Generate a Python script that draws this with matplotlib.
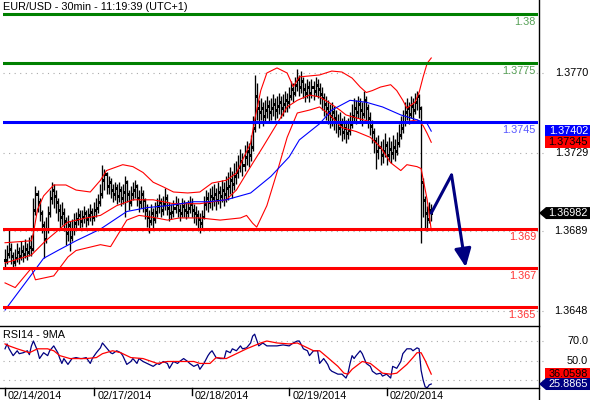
import numpy as np
import matplotlib
matplotlib.use('Agg')
import matplotlib.pyplot as plt
from matplotlib.patches import Polygon
from matplotlib.lines import Line2D
from matplotlib.transforms import IdentityTransform, blended_transform_factory

plt.rcParams['font.family'] = ['Liberation Sans', 'DejaVu Sans']

# prices are kept in pips above 1.3600
BASE = 1.36

close_pips = [
    74, 77, 80, 76, 73, 75, 78, 76, 79, 77, 80, 78, 81, 80,
    100, 108, 104, 98, 92, 85, 90, 98, 106, 110, 107,
    104, 100, 96, 98, 94, 88, 92, 86, 90, 93,
    95, 97, 94, 96, 98, 95, 97, 99, 96, 100, 101, 104, 108,
    115, 118, 112, 114, 110, 108, 111, 107, 110, 106, 109, 114, 108,
    104, 108, 110, 112, 106, 104, 108, 105, 100, 96, 94, 98, 95,
    99, 102, 104, 100, 103, 106, 101,
    98, 99, 101, 103, 100, 98, 102, 100, 99, 101, 103, 100, 98, 97,
    95, 93, 96, 103, 106, 104, 107,
    106, 108, 105, 109, 107, 110, 108, 111,
    112, 115, 113, 117, 119, 122, 125, 123, 127, 130, 128, 132,
    142, 158, 152,
    150, 152, 148, 151, 153, 150, 152, 154, 151, 153, 155, 152, 154, 156, 155,
    158, 162, 160, 164, 167, 163, 166, 162, 160, 163,
    160, 163, 161, 164, 162, 159, 157, 154, 152, 150, 148, 150, 147,
    145, 142, 144, 140, 142, 139, 141, 144,
    148, 152, 150, 154, 151, 149, 156, 152, 147, 143, 140,
    135, 130, 132, 128, 130, 133, 128, 131, 129, 132, 130, 134,
    138, 142, 145, 150, 152, 149, 153, 151, 155, 158, 152,
    114, 105, 98, 95, 100, 98.2,
]
high_pips = [
    80, 82, 90, 83, 78, 80, 83, 81, 84, 82, 85, 83, 86, 87,
    106, 112, 110, 106, 100, 94, 96, 102, 110, 114, 113,
    110, 106, 103, 104, 101, 96, 97, 94, 95, 98,
    99, 101, 100, 100, 102, 100, 101, 103, 101, 104, 106, 108, 113,
    123, 121, 119, 117, 116, 113, 114, 113, 114, 112, 113, 117, 115,
    110, 112, 114, 115, 113, 110, 112, 110, 106, 103, 100, 103, 101,
    104, 106, 108, 106, 107, 111, 108,
    104, 103, 105, 107, 106, 103, 106, 105, 104, 105, 107, 106, 103, 102,
    100, 98, 100, 107, 110, 109, 111,
    112, 113, 111, 114, 112, 115, 114, 117,
    119, 122, 120, 124, 125, 128, 131, 129, 133, 135, 134, 138,
    148, 169, 165,
    156, 157, 155, 156, 158, 156, 157, 159, 157, 158, 160, 158, 159, 161, 160,
    163, 166, 165, 168, 172, 169, 171, 168, 165, 167,
    166, 167, 166, 168, 167, 165, 163, 160, 158, 156, 154, 155, 153,
    151, 149, 150, 147, 148, 146, 147, 150,
    154, 157, 156, 158, 157, 155, 161, 158, 154, 150, 146,
    142, 137, 138, 135, 136, 139, 135, 137, 135, 138, 136, 140,
    144, 148, 151, 155, 157, 155, 158, 157, 160, 161, 159,
    153, 116, 107, 102, 104, 103,
]
low_pips = [
    70, 72, 75, 72, 70, 71, 73, 72, 74, 73, 75, 74, 76, 76,
    79, 97, 99, 94, 88, 75, 83, 88, 96, 103, 101,
    98, 94, 90, 92, 89, 82, 84, 79, 84, 87,
    90, 92, 90, 91, 93, 91, 92, 94, 92, 94, 96, 98, 102,
    106, 110, 108, 108, 106, 104, 105, 103, 104, 102, 103, 96, 104,
    100, 102, 105, 106, 102, 99, 101, 99, 95, 91, 88, 92, 90,
    93, 96, 98, 96, 97, 100, 97,
    94, 95, 96, 98, 96, 94, 96, 96, 95, 96, 98, 96, 93, 92,
    90, 88, 90, 95, 100, 99, 101,
    100, 102, 100, 103, 101, 104, 102, 104,
    105, 108, 106, 110, 113, 116, 119, 117, 120, 123, 122, 125,
    130, 140, 146,
    142, 146, 143, 145, 147, 145, 146, 148, 146, 147, 149, 147, 148, 150, 150,
    152, 156, 155, 158, 161, 158, 160, 157, 155, 157,
    155, 157, 156, 158, 157, 154, 151, 148, 146, 144, 142, 143, 141,
    139, 137, 138, 135, 136, 134, 136, 138,
    142, 145, 144, 147, 145, 143, 147, 146, 142, 138, 134,
    129, 121, 126, 123, 124, 127, 123, 125, 124, 126, 125, 128,
    132, 136, 139, 143, 146, 144, 147, 146, 149, 151, 147,
    83, 96, 90, 89, 93, 94,
]

# indicator readings (bar index, pips)
bb_up_idx = [0, 13, 14, 16, 19, 24, 30, 35, 42, 47, 50, 58, 63, 68, 73, 78, 83, 90, 96,
             102, 109, 114, 117, 121, 123, 126, 129, 134, 139, 142, 145, 155, 161, 166,
             171, 175, 178, 181, 185, 190, 193, 196, 198, 202, 204, 206, 208, 210]
bb_up = [83, 84, 88, 100, 107, 112.6, 112.6, 110, 109, 115, 120, 123, 122, 119, 114,
         111.6, 109, 108.5, 109, 113.6, 115, 118.7, 125.4, 134, 146, 161, 170, 172.6, 170,
         163, 168, 169, 171, 170.5, 167.4, 162.8, 160, 161, 162.8, 164, 161, 156, 152,
         155, 160, 168, 175, 177.7]
bb_mid_idx = [0, 13, 20, 31, 40, 47, 55, 63, 73, 83, 96, 109, 114, 121, 127, 134, 139,
              144, 150, 155, 160, 165, 168, 173, 180, 186, 193, 198, 203, 206, 208, 210]
bb_mid = [72.6, 76.7, 84, 93.6, 95.7, 97, 102, 105, 105, 103, 103, 105, 110, 122, 132,
          144, 152.6, 156, 158.7, 157.7, 154.6, 151, 148.5, 147, 145, 144.4, 144.4, 145,
          146, 143, 139, 134.5]
bb_low_idx = [0, 5, 13, 15, 24, 31, 35, 47, 52, 60, 66, 73, 80, 86, 96, 106, 116, 119,
              122, 124, 129, 134, 139, 144, 150, 155, 160, 166, 173, 180, 185, 190, 195,
              198, 203, 205, 208, 210]
bb_low = [62.4, 60, 70, 64, 66, 75.7, 79, 82, 81, 94.6, 97, 96, 94.6, 95.7, 95.7, 94.6,
          95.7, 97, 93, 91, 102, 119, 137, 149.5, 151, 152.6, 148.5, 142, 140, 137, 132,
          124, 120, 123, 122, 121, 105, 89.5]
ma_idx = [0, 14, 19, 26, 35, 47, 60, 70, 80, 93, 100, 109, 121, 131, 140, 145, 155, 161,
          170, 178, 186, 195, 203, 208, 210]
ma_pips = [48.5, 68, 75, 79, 84, 90, 99, 101, 102, 104, 104, 105, 108.5, 117, 127, 135.7,
           144, 151, 156, 155, 152.6, 148.5, 146, 144, 140.2]

rsi_idx = [0, 1, 2, 4, 6, 7, 9, 11, 12, 13, 14, 15, 16, 17, 19, 21, 22, 24, 26, 27,
           28, 29, 31, 32, 33, 35, 37, 38, 40, 42, 43, 45, 47, 48, 50, 52, 53, 55, 57, 58,
           60, 62, 63, 65, 66, 68, 70, 71, 73, 75, 76, 78, 80, 81, 83, 85, 86, 88, 90, 91,
           93, 95, 96, 98, 100, 101, 102, 104, 106, 108, 109, 111, 112, 114, 116, 117, 119,
           121, 122, 123, 125, 127, 129, 130, 134, 137, 140, 142, 144, 145, 147, 149, 150,
           152, 154, 155, 157, 159, 160, 161, 163, 164, 166, 167, 168, 169, 170, 171, 172,
           173, 175, 176, 178, 180, 181, 183, 185, 186, 188, 190, 191, 193, 195, 196, 198,
           200, 201, 203, 204, 205, 206, 207, 208, 209, 210]
rsi_val = [62, 67, 62, 55, 60, 57, 58, 60, 56, 65, 70, 65, 60, 52, 58, 55, 60, 65, 58, 52,
           47, 52, 46, 49, 52, 53, 52, 52, 53, 47, 52, 58, 63, 68, 63, 58, 57, 60, 58, 55,
           46, 49, 52, 47, 52, 49, 47, 46, 44, 47, 46, 49, 47, 42, 49, 47, 49, 52, 49, 47,
           44, 46, 41, 47, 55, 58, 60, 53, 52, 52, 60, 58, 62, 60, 65, 62, 63, 68, 75, 77,
           65, 68, 65, 65, 65, 66, 65, 68, 70, 70, 62, 60, 55, 60, 60, 47, 52, 46, 41, 39,
           37, 36, 36, 34, 32, 37, 47, 55, 52, 55, 60, 57, 47, 44, 39, 36, 37, 34, 36, 32,
           44, 42, 49, 57, 62, 62, 60, 63, 62, 40, 30, 23, 22, 25, 25.89]
rsi_ma_idx = [0, 2, 6, 9, 12, 16, 21, 24, 27, 32, 35, 40, 45, 48, 53, 57, 62, 68, 75, 80,
              86, 93, 96, 101, 104, 109, 112, 119, 126, 129, 134, 140, 144, 149, 152, 155,
              159, 164, 167, 169, 171, 176, 180, 183, 186, 190, 193, 198, 201, 203, 205,
              207, 210]
rsi_ma = [67, 65, 62, 60, 58, 62, 62, 60, 55, 52, 52, 52, 53, 57, 60, 58, 53, 52, 47, 49,
          49, 49, 47, 47, 53, 52, 55, 62, 68, 70, 68, 67, 68, 63, 60, 60, 53, 44, 37, 36,
          41, 49, 47, 42, 37, 36, 37, 46, 53, 58, 58, 50, 36.06]

level_prices = [1.38, 1.3775, 1.3745, 1.369, 1.367, 1.365]
level_texts = ['1.38', '1.3775', '1.3745', '1.369', '1.367', '1.365']
level_colors = ['#008000', '#008000', '#0000ff', '#ff0000', '#ff0000', '#ff0000']
level_text_colors = ['#55a055', '#55a055', '#5555ff', '#ff3333', '#ff3333', '#ff3333']

price_ticks = [1.3770, 1.3729, 1.3689, 1.3648]
rsi_ticks = [70, 50, 30]
date_idx = [0, 44, 92, 140, 188]
date_labels = ['02/14/2014', '02/17/2014', '02/18/2014', '02/19/2014', '02/20/2014']

# forecast path drawn on the chart (bar index, price)
arrow_idx = [210, 220, 227]
arrow_price = [1.36982, 1.37177, 1.36705]

last_price = '1.36982'
ma_last = '1.37402'
mid_last = '1.37345'
rsi_last = '25.8865'
rsi_ma_last = '36.0598'


def px(p):
    return BASE + np.asarray(p, dtype=float) / 10000.0


W, H = 590, 400
FS = 7.8
fig = plt.figure(figsize=(W / 100, H / 100), dpi=100)
ax = fig.add_axes([3 / W, 74 / H, 535 / W, 326 / H])
rx = fig.add_axes([3 / W, 12 / H, 535 / W, 62 / H])
XR = 262.6
for a in (ax, rx):
    a.set_xlim(-1, XR)
    for s in a.spines.values():
        s.set_visible(False)
    a.set_xticks([])
    a.set_yticks([])
ax.set_ylim(1.364031, 1.380742)
rx.set_ylim(21.8, 85.4)

ident = IdentityTransform()
grid_kw = dict(ls=(0, (1, 4)), color='#aaaaaa', lw=0.8, clip_on=False, zorder=1)
for p in price_ticks:
    ax.plot([-1, XR + 2.5], [p, p], **grid_kw)
for v in rsi_ticks:
    rx.plot([-1, XR + 2.5], [v, v], **grid_kw)

# OHLC bars
n = len(close_pips)
idx = np.arange(n)
c = px(close_pips)
o = np.concatenate([[c[0]], c[:-1]])
ax.vlines(idx, px(low_pips), px(high_pips), color='black', lw=0.95, zorder=2)
tick_kw = dict(color='black', lw=0.75, zorder=2, antialiased=False)
ax.hlines(o, idx - 0.5, idx, **tick_kw)
ax.hlines(c, idx, idx + 0.5, **tick_kw)

# bands and moving average
ax.plot(bb_up_idx, px(bb_up), color='#ff0000', lw=0.8, zorder=3)
ax.plot(bb_mid_idx, px(bb_mid), color='#ff0000', lw=0.8, zorder=3)
ax.plot(bb_low_idx, px(bb_low), color='#ff0000', lw=0.8, zorder=3)
ax.plot(ma_idx, px(ma_pips), color='#0000ff', lw=0.8, zorder=3)

# support / resistance levels
lab_tr = blended_transform_factory(ident, ax.transData)
for p, t, col, tcol in zip(level_prices, level_texts, level_colors, level_text_colors):
    ax.axhline(p, color=col, lw=2.2, zorder=4)
    ax.text(536, p - 8 / 19508, t, transform=lab_tr, ha='right', va='center',
            color=tcol, fontsize=FS, zorder=4)

# forecast arrow
navy = '#000080'
ax.plot(arrow_idx[:2], arrow_price[:2], color=navy, lw=2.2, solid_capstyle='round', zorder=5)
ax.annotate('', xy=(arrow_idx[2], arrow_price[2]), xytext=(arrow_idx[1], arrow_price[1]),
            arrowprops=dict(arrowstyle='-|>,head_length=1.1,head_width=0.5', color=navy,
                            lw=2.2, shrinkA=0, shrinkB=0), zorder=5)

# RSI panel
rx.plot(rsi_idx, rsi_val, color=navy, lw=0.9, zorder=3)
rx.plot(rsi_ma_idx, rsi_ma, color='#ff0000', lw=0.9, zorder=3)

# right-hand scale
for p in price_ticks:
    ax.text(588, p, '%.4f' % p, transform=lab_tr, ha='right', va='center', fontsize=FS, zorder=1)
rsi_tr = blended_transform_factory(ident, rx.transData)
for v in rsi_ticks[:2]:
    rx.text(588, v, '%.1f' % v, transform=rsi_tr, ha='right', va='center', fontsize=FS, zorder=1)


def tag(axis, value, text, face, fg, pointer=False):
    y = axis.transData.transform((0, value))[1]
    h = 6
    if pointer:
        pts = [(539, y), (546, y + h), (590, y + h), (590, y - h), (546, y - h)]
    else:
        pts = [(545, y + h), (590, y + h), (590, y - h), (545, y - h)]
    fig.add_artist(Polygon(pts, closed=True, transform=ident, facecolor=face,
                           edgecolor='none', zorder=5))
    fig.text(588, y, text, transform=ident, ha='right', va='center', color=fg,
             fontsize=FS, zorder=6)


tag(ax, float(ma_last), ma_last, '#0000ff', 'white')
tag(ax, float(mid_last), mid_last, '#ff0000', 'black')
tag(ax, float(last_price), last_price, 'black', 'white', pointer=True)
tag(rx, float(rsi_ma_last), rsi_ma_last, '#ff0000', 'black')
tag(rx, float(rsi_last), rsi_last, navy, 'white', pointer=True)

# frame lines
fig.add_artist(Line2D([538.5 / W, 538.5 / W], [0, 1], color='black', lw=1.0))
fig.add_artist(Line2D([0, 538.5 / W], [74 / H, 74 / H], color='black', lw=1.0))
fig.add_artist(Line2D([0, 538.5 / W], [12 / H, 12 / H], color='black', lw=1.0))

# date axis
date_tr = blended_transform_factory(rx.transData, rx.transAxes)
for i, lab in zip(date_idx, date_labels):
    rx.plot([i, i], [0, -0.11], transform=date_tr, color='black', lw=1.0, clip_on=False)
    rx.text(i + 1.5, -0.05, lab, transform=date_tr, ha='left', va='top', fontsize=FS)

fig.text(3 / W, 1 - 2 / H, 'EUR/USD - 30min - 11:19:39 (UTC+1)', ha='left', va='top', fontsize=FS)
fig.text(3 / W, 1 - 330 / H, 'RSI14 - 9MA', ha='left', va='top', fontsize=FS)

fig.savefig('out.png', dpi=100)
